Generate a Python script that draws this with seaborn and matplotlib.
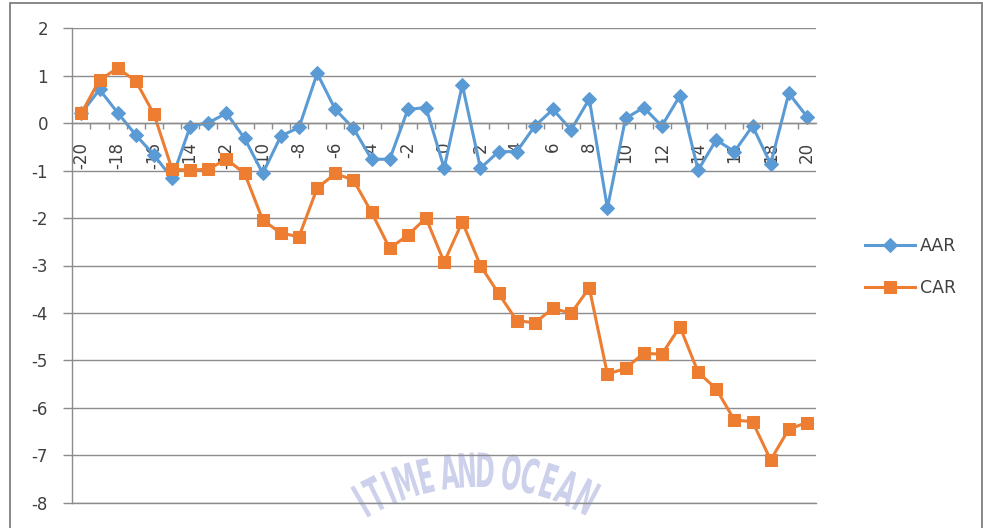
import numpy as np
import matplotlib
matplotlib.use("Agg")
import matplotlib.pyplot as plt
import matplotlib.patheffects as pe
import pandas as pd
import seaborn as sns
from matplotlib.patches import Rectangle
from matplotlib.transforms import Affine2D
from matplotlib.ticker import FixedLocator

# Event window (days relative to the event)
event_days = list(range(-20, 21))

# Average abnormal return (%) per event day
aar = [0.21, 0.71, 0.22, -0.25, -0.67, -1.16, -0.07, 0.01, 0.21, -0.32,
       -1.06, -0.27, -0.09, 1.05, 0.29, -0.11, -0.76, -0.76, 0.29, 0.33,
       -0.95, 0.81, -0.95, -0.60, -0.60, -0.06, 0.29, -0.14, 0.51, -1.79,
       0.10, 0.33, -0.06, 0.58, -0.99, -0.35, -0.60, -0.06, -0.86, 0.63,
       0.14]

# Cumulative abnormal return (%) per event day
car = [0.21, 0.91, 1.16, 0.89, 0.19, -0.97, -0.99, -0.97, -0.76, -1.06,
       -2.04, -2.32, -2.39, -1.37, -1.06, -1.20, -1.88, -2.64, -2.36, -2.00,
       -2.93, -2.08, -3.00, -3.59, -4.16, -4.21, -3.90, -4.01, -3.47, -5.29,
       -5.17, -4.85, -4.87, -4.29, -5.25, -5.60, -6.26, -6.29, -7.10, -6.45,
       -6.31]

series_names = ["AAR", "CAR"]
y_ticks = list(range(-8, 3))
x_tick_labels = [str(d) if d % 2 == 0 else "" for d in event_days]
watermark_text = "ITIME AND OCEAN"

colors = {"AAR": "#5B9BD5", "CAR": "#ED7D31"}
markers = {"AAR": "D", "CAR": "s"}
grid_gray = "#8C8C8C"
text_gray = "#404040"
watermark_color = "#CDD1EC"

plt.rcParams["font.family"] = ["DejaVu Sans"]
plt.rcParams["axes.unicode_minus"] = False

df = pd.DataFrame({
    "day": event_days * 2,
    "value": aar + car,
    "series": ["AAR"] * len(event_days) + ["CAR"] * len(event_days),
})

W, H = 983, 528
fig = plt.figure(figsize=(W / 100, H / 100), dpi=100)
fig.patch.set_facecolor("white")

# outer chart-area frame
fig.add_artist(Rectangle((9.5 / W, -0.05), (981.5 - 9.5) / W, 1 - 3.5 / H + 0.05,
                         transform=fig.transFigure, fill=False,
                         edgecolor="#7F7F7F", linewidth=1.3, zorder=0))

left, right, top, bottom = 72.3, 816.0, 28.3, 502.7
ax = fig.add_axes([left / W, 1 - bottom / H, (right - left) / W, (bottom - top) / H])
ax.set_facecolor("none")

sns.lineplot(data=df, x="day", y="value", hue="series", style="series",
             hue_order=series_names, style_order=series_names,
             palette=colors, markers=markers, dashes=False,
             linewidth=2.2, markersize=8, ax=ax, legend=True)

for line in ax.lines:
    line.set_markeredgecolor(line.get_color())
    if line.get_marker() == "D":
        line.set_markersize(7)

ax.set_xlim(-20.5, 20.5)
ax.set_ylim(-8, 2)
ax.set_xlabel("")
ax.set_ylabel("")

# horizontal gridlines at every integer
ax.set_yticks(y_ticks)
ax.set_yticklabels([str(v) for v in y_ticks])
ax.yaxis.grid(True, color=grid_gray, linewidth=1.0)
ax.xaxis.grid(False)
ax.set_axisbelow(True)
ax.axhline(y_ticks[0], color=grid_gray, linewidth=1.0, clip_on=False, zorder=0.5)

for side in ("top", "right"):
    ax.spines[side].set_visible(False)
ax.spines["left"].set_color(grid_gray)
ax.spines["left"].set_linewidth(1.0)
ax.spines["bottom"].set_position(("data", 0))
ax.spines["bottom"].set_color(grid_gray)
ax.spines["bottom"].set_linewidth(1.0)

# category labels sit under the zero line; tick marks between categories
ax.set_xticks(event_days)
ax.set_xticklabels(x_tick_labels, rotation=90)
ax.xaxis.set_minor_locator(FixedLocator([d + 0.5 for d in event_days[:-1]]))
ax.tick_params(axis="x", which="major", length=0, pad=13.5,
               labelsize=12, labelcolor=text_gray)
ax.tick_params(axis="x", which="minor", length=4, width=1.0,
               color=grid_gray, direction="out")
ax.tick_params(axis="y", which="major", length=6.5, width=1.0,
               color=grid_gray, pad=11, labelsize=12, labelcolor=text_gray)

leg = ax.get_legend()
handles = leg.legend_handles
labels = [t.get_text() for t in leg.texts]
leg.remove()
for h in handles:
    h.set_markeredgecolor(h.get_color())
    h.set_linewidth(2.2)
    if h.get_marker() == "D":
        h.set_markersize(7)
    else:
        h.set_markersize(8)
fig.legend(handles, labels, loc="center left",
           bbox_to_anchor=(856 / W, 1 - 267 / H), frameon=False,
           borderpad=0, handlelength=2.9, handletextpad=0.3,
           labelspacing=1.35, fontsize=12.5, labelcolor=text_gray)


class Condense(pe.AbstractPathEffect):
    """Squeeze each glyph horizontally about its own centre."""

    def __init__(self, sx):
        super().__init__()
        self.sx = sx

    def draw_path(self, renderer, gc, tpath, affine, rgbFace=None):
        ext = tpath.get_extents()
        cx = 0.5 * (ext.x0 + ext.x1)
        squeeze = Affine2D().translate(-cx, 0).scale(self.sx, 1).translate(cx, 0)
        renderer.draw_path(gc, tpath, squeeze + affine, rgbFace)


# arched seal lettering on the page behind the (transparent) plot area,
# each letter set radially on a circle
arc_cx, arc_cy, arc_r = 478.0, 702.0, 250.0
letter_x = [352, 367, 382, 400, 421, None, 447, 466, 485, None,
            514, 534, 554, 574, 595]
for ch, lx in zip(watermark_text, letter_x):
    if lx is None:
        continue
    th = np.arcsin((lx - arc_cx) / arc_r)
    px = arc_cx + arc_r * np.sin(th)
    py = arc_cy - arc_r * np.cos(th)
    fig.text(px / W, 1 - py / H, ch,
             fontsize=34, fontweight="bold", color=watermark_color,
             ha="center", va="top", rotation=-np.rad2deg(th),
             rotation_mode="anchor", zorder=-1,
             path_effects=[Condense(0.5)])

fig.savefig("out.png", dpi=100, facecolor="white")
